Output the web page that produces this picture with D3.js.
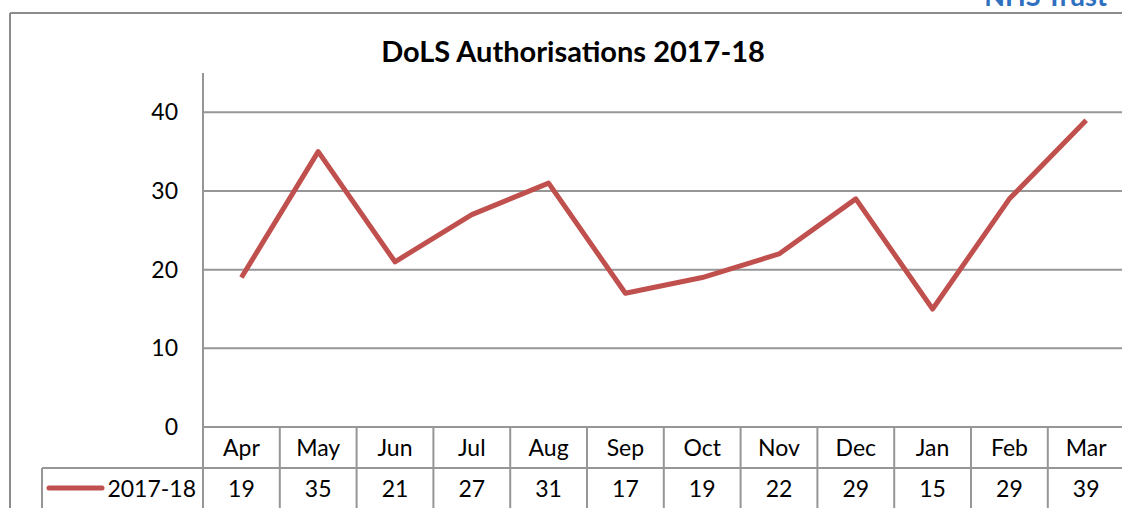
<!DOCTYPE html>
<html>
<head>
<meta charset="utf-8">
<script src="https://cdn.jsdelivr.net/npm/d3@7"></script>
<style>
  body { margin: 0; background: #fff; }
  svg { display: block; font-family: Lato, "Open Sans", sans-serif; }
</style>
</head>
<body>
<svg></svg>
<script>
var months = ["Apr", "May", "Jun", "Jul", "Aug", "Sep", "Oct", "Nov", "Dec", "Jan", "Feb", "Mar"];
var values = [19, 35, 21, 27, 31, 17, 19, 22, 29, 15, 29, 39];
var seriesName = "2017-18";
var yTicks = [0, 10, 20, 30, 40];
var title = "DoLS Authorisations 2017-18";

var width = 1122, height = 508;
var plotLeft = 203, plotRight = 1124.6, plotTop = 73, base = 427;
var rowH = 41;
var fs = 23;
var lineCol = "#c0504d", gridCol = "#969696";

var svg = d3.select("svg").attr("width", width).attr("height", height);

// 上の見切れた文字
svg.append("text").attr("x", 1107).attr("y", 6).attr("text-anchor", "end")
  .attr("font-size", 27).attr("font-weight", "bold").attr("fill", "#2e6fc0")
  .text("NHS Trust");

// 外枠
svg.append("line").attr("x1", 10).attr("x2", width).attr("y1", 13).attr("y2", 13)
  .attr("stroke", "#8c8c8c").attr("stroke-width", 2);
svg.append("line").attr("x1", 10).attr("x2", 10).attr("y1", 13).attr("y2", height)
  .attr("stroke", "#8c8c8c").attr("stroke-width", 2);

svg.append("text").attr("x", 573).attr("y", 62).attr("text-anchor", "middle")
  .attr("font-size", 29).attr("font-weight", "bold").attr("fill", "#000")
  .text(title);

var x = d3.scaleBand().domain(months).range([plotLeft, plotRight]);
var y = d3.scaleLinear().domain([0, 45]).range([base, plotTop]);

// グリッド線
svg.append("g").selectAll("line").data(yTicks.filter(d => d > 0)).enter().append("line")
  .attr("x1", plotLeft).attr("x2", width).attr("y1", d => y(d)).attr("y2", d => y(d))
  .attr("stroke", gridCol).attr("stroke-width", 2);

// y軸
var yAxis = svg.append("g").attr("transform", "translate(" + plotLeft + ",0)")
  .call(d3.axisLeft(y).tickValues(yTicks).tickSize(0).tickPadding(25));
yAxis.select(".domain").remove();
yAxis.selectAll("text").attr("font-size", fs).attr("fill", "#000")
  .attr("font-family", "Lato, 'Open Sans', sans-serif");

// 表の線
var g = svg.append("g").attr("stroke", gridCol).attr("stroke-width", 2);
g.append("line").attr("x1", plotLeft).attr("x2", plotLeft).attr("y1", plotTop).attr("y2", height);
g.append("line").attr("x1", plotLeft).attr("x2", width).attr("y1", base).attr("y2", base);
g.append("line").attr("x1", 42).attr("x2", width).attr("y1", base + rowH).attr("y2", base + rowH);
g.append("line").attr("x1", 42).attr("x2", 42).attr("y1", base + rowH).attr("y2", height);
g.selectAll(".vcol").data(months).enter().append("line").attr("class", "vcol")
  .attr("x1", d => x(d) + x.bandwidth()).attr("x2", d => x(d) + x.bandwidth())
  .attr("y1", base).attr("y2", height);

// 月ラベル
svg.append("g").selectAll("text").data(months).enter().append("text")
  .attr("x", d => x(d) + x.bandwidth() / 2).attr("y", base + 29)
  .attr("text-anchor", "middle").attr("font-size", fs).text(d => d);

// 値
svg.append("g").selectAll("text").data(values).enter().append("text")
  .attr("x", (d, i) => x(months[i]) + x.bandwidth() / 2).attr("y", base + rowH + 29)
  .attr("text-anchor", "middle").attr("font-size", fs).text(d => d);

// 凡例
svg.append("line").attr("x1", 49).attr("x2", 102).attr("y1", 488).attr("y2", 488)
  .attr("stroke", lineCol).attr("stroke-width", 5).attr("stroke-linecap", "round");
svg.append("text").attr("x", 196).attr("y", base + rowH + 29).attr("text-anchor", "end")
  .attr("font-size", fs).text(seriesName);

// 折れ線
var line = d3.line()
  .x((d, i) => x(months[i]) + x.bandwidth() / 2)
  .y(d => y(d));
svg.append("path").datum(values).attr("d", line)
  .attr("fill", "none").attr("stroke", lineCol).attr("stroke-width", 5)
  .attr("stroke-linejoin", "round");
</script>
</body>
</html>
